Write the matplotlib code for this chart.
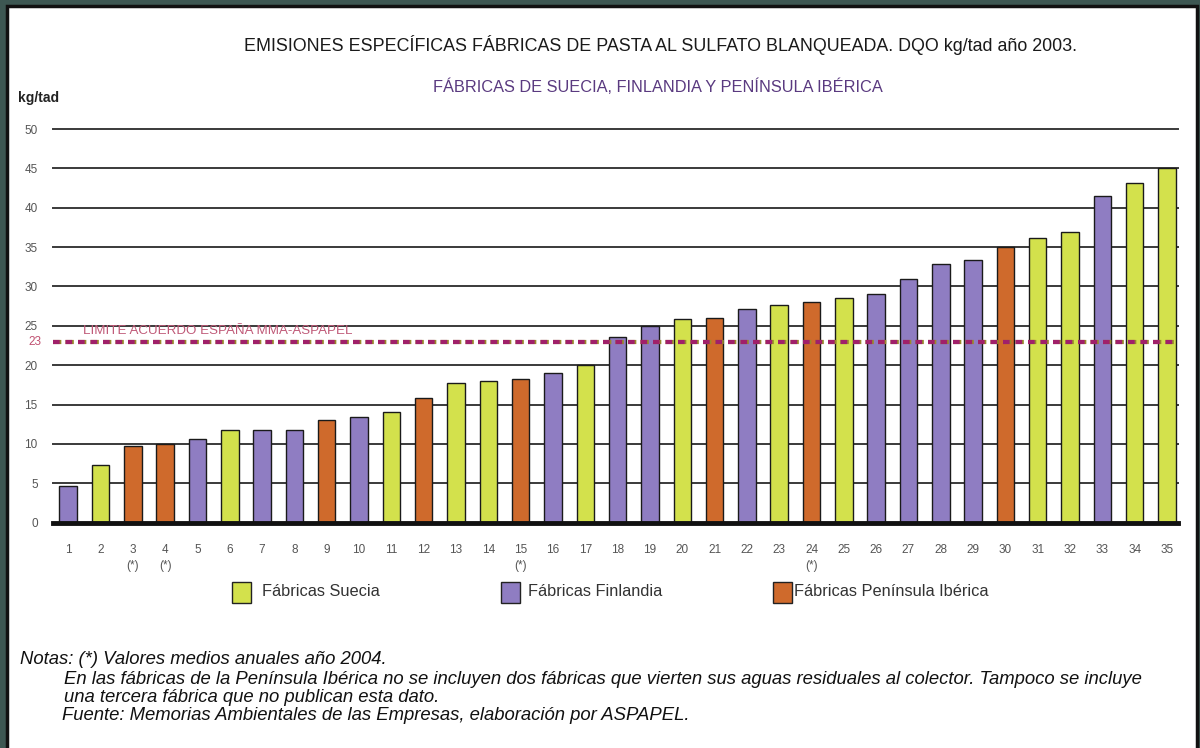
import matplotlib
matplotlib.use("Agg")
import matplotlib.pyplot as plt
from matplotlib.patches import Rectangle

# ---- data ----
fabricas = list(range(1, 36))
valores = [4.6, 7.3, 9.8, 10.0, 10.6, 11.8, 11.8, 11.8, 13.0, 13.4,
           14.1, 15.9, 17.8, 18.0, 18.3, 19.0, 20.0, 23.6, 25.0, 25.9,
           26.0, 27.1, 27.7, 28.0, 28.5, 29.1, 30.9, 32.8, 33.3, 35.0,
           36.2, 36.9, 41.5, 43.2, 45.0]
pais = ['F', 'S', 'I', 'I', 'F', 'S', 'F', 'F', 'I', 'F',
        'S', 'I', 'S', 'S', 'I', 'F', 'S', 'F', 'F', 'S',
        'I', 'F', 'S', 'I', 'S', 'F', 'F', 'F', 'F', 'I',
        'S', 'S', 'F', 'S', 'S']
asterisco = [3, 4, 15, 24]
limite = 23
yticks = [0, 5, 10, 15, 20, 25, 30, 35, 40, 45, 50]

colores = {'S': '#d3e14c', 'F': '#8f7dc2', 'I': '#cf6a2c'}
nombres = {'S': 'Fábricas Suecia', 'F': 'Fábricas Finlandia', 'I': 'Fábricas Península Ibérica'}

FONT = ['Liberation Sans', 'DejaVu Sans']
plt.rcParams['font.family'] = FONT

W, H = 1200, 748
fig = plt.figure(figsize=(12, 7.48), dpi=100, facecolor='#3d5752')

def fx(px):
    return px / W

def fy(py):
    return 1 - py / H

# white panel with black frame
panel = Rectangle((fx(7), -0.01), fx(1197) - fx(7), fy(6) + 0.01, transform=fig.transFigure,
                  facecolor='white', edgecolor='#111111', linewidth=2.5, zorder=-5)
fig.patches.append(panel)

ax = fig.add_axes([fx(53), fy(522.7), fx(1178) - fx(53), fy(129) - fy(522.7)])
ax.set_facecolor('none')
ax.set_zorder(2)

ax.bar(fabricas, valores, width=0.54, color=[colores[p] for p in pais],
       edgecolor='#1a1a1a', linewidth=1.0, zorder=3)

ax.set_xlim(0.53, 35.34)
ax.set_ylim(0, 50)
for s in ['top', 'right', 'left']:
    ax.spines[s].set_visible(False)
ax.spines['bottom'].set_linewidth(3.5)
ax.spines['bottom'].set_color('#111111')
ax.spines['bottom'].set_zorder(5)

ax.set_yticks(yticks)
ax.set_yticklabels([str(v) for v in yticks], fontsize=8.5, color='#555555')
ax.tick_params(axis='y', length=0, pad=11)
for v in yticks[1:]:
    ax.axhline(v, color='#3a3a3a', linewidth=1.4, zorder=1, clip_on=False)

ax.set_xticks(fabricas)
ax.set_xticklabels([str(f) if f not in asterisco else f"{f}\n(*)" for f in fabricas],
                   fontsize=8.5, color='#555555', linespacing=1.55, va='top')
ax.tick_params(axis='x', length=0, pad=15)

# limit line
ax.axhline(limite, color='#9a8a2a', linewidth=3.0, dashes=(2.0, 1.0), zorder=4)
ax.axhline(limite, color='#a0206a', linewidth=3.0, dashes=(1.6, 1.4), zorder=4)
ax.text(-0.01, limite, str(limite), transform=ax.get_yaxis_transform(),
        ha='right', va='center', fontsize=8.5, color='#c05070')
ax.text(1.45, limite + 1.3, 'LIMITE ACUERDO ESPAÑA MMA-ASPAPEL', fontsize=9.6,
        color='#c05a78', ha='left', va='center', zorder=4)

# titles
fig.text(fx(661), fy(45), 'EMISIONES ESPECÍFICAS FÁBRICAS DE PASTA AL SULFATO BLANQUEADA. DQO kg/tad año 2003.',
         ha='center', va='center', fontsize=12.9, color='#1a1a1a')
fig.text(fx(658), fy(87), 'FÁBRICAS DE SUECIA, FINLANDIA Y PENÍNSULA IBÉRICA',
         ha='center', va='center', fontsize=11.8, color='#5a3a80')
fig.text(fx(18), fy(98), 'kg/tad', ha='left', va='center', fontsize=10,
         color='#222222', fontweight='bold')

# legend
legend_pos = {'S': (232, 262), 'F': (501, 528), 'I': (773, 794)}
for k in ['S', 'F', 'I']:
    sx, tx = legend_pos[k]
    fig.patches.append(Rectangle((fx(sx), fy(603)), fx(19), fy(582) - fy(603),
                                 transform=fig.transFigure, facecolor=colores[k],
                                 edgecolor='#222222', linewidth=1.0))
    fig.text(fx(tx), fy(592), nombres[k], ha='left', va='center', fontsize=11.8,
             color='#333333')

# notes
notes = [
    (20, 660, 'Notas: (*) Valores medios anuales año 2004.'),
    (64, 679, 'En las fábricas de la Península Ibérica no se incluyen dos fábricas que vierten sus aguas residuales al colector. Tampoco se incluye'),
    (64, 697, 'una tercera fábrica que no publican esta dato.'),
    (62, 716, 'Fuente: Memorias Ambientales de las Empresas, elaboración por ASPAPEL.'),
]
for x, y, t in notes:
    fig.text(fx(x), fy(y), t, ha='left', va='center', fontsize=13.3, style='italic',
             color='#111111')

fig.savefig('out.png', dpi=100, facecolor=fig.get_facecolor())
